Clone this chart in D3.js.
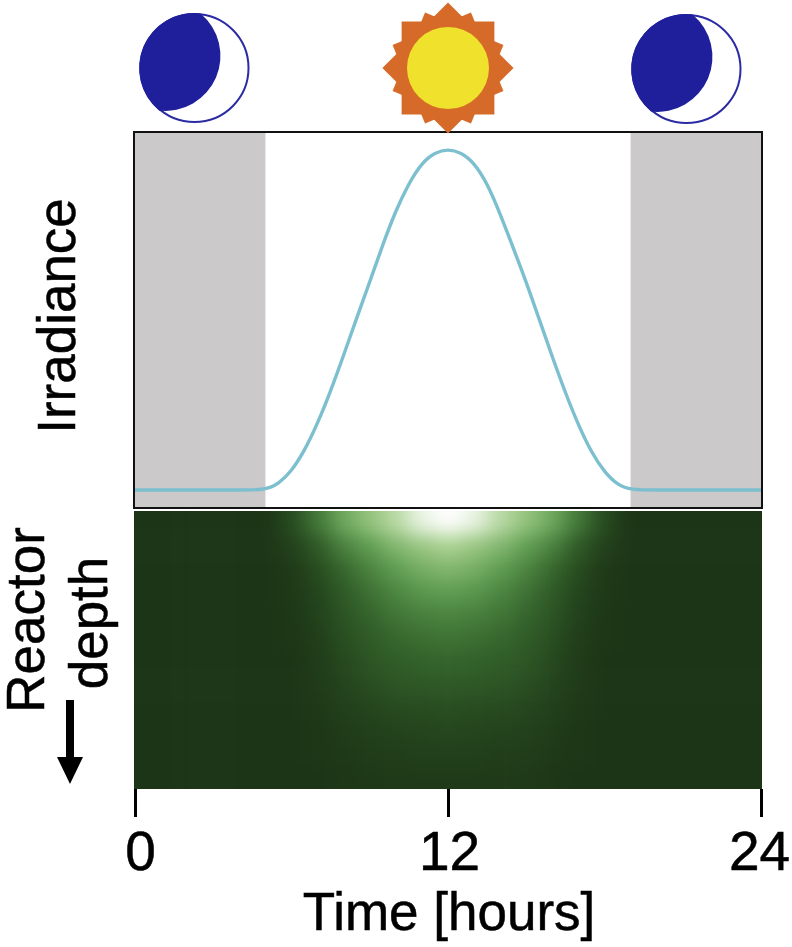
<!DOCTYPE html>
<html>
<head>
<meta charset="utf-8">
<style>
  html, body { margin: 0; padding: 0; background: #fff; }
  svg { display: block; }
  text { font-family: 'Liberation Sans', Arial, sans-serif; fill: #000; stroke: #000; stroke-width: 0.5px; }
</style>
<script src="https://cdn.jsdelivr.net/npm/d3@7"></script>
</head>
<body>
<svg width="792" height="947"></svg>
<script>
// Irradiance, every half hour from 5 to 19
const curveHours = [0, 1, 2, 3, 4, 5, 5.5, 6, 6.5, 7, 7.5, 8, 8.5, 9, 9.5, 10, 10.5, 11, 11.5, 12,
  12.5, 13, 13.5, 14, 14.5, 15, 15.5, 16, 16.5, 17, 17.5, 18, 18.5, 19, 20, 21, 22, 23, 24];
const irradiance = [0, 0, 0, 0, 0, 0, 0.018, 0.055, 0.115, 0.195, 0.29, 0.395, 0.505, 0.61, 0.72, 0.82, 0.9, 0.96, 0.99, 1,
  0.99, 0.96, 0.9, 0.81, 0.71, 0.61, 0.5, 0.39, 0.285, 0.19, 0.11, 0.052, 0.015, 0, 0, 0, 0, 0, 0];

// Night shading, start and end hours
const nightSpans = [[0, 5], [19, 24]];

// Heatmap: one row per depth, one value per hour 0..24
const heatHours = d3.range(0, 25);
const depths = d3.range(0, 12);
const row0 = [0, 0, 0, 0, 0, 0, .12, .34, .55, .68, .8, .94, 1, .94, .8, .68, .55, .34, .12, 0, 0, 0, 0, 0, 0];
const row1 = [0, 0, 0, 0, 0, 0, .06, .2, .38, .5, .62, .7, .76, .7, .62, .5, .38, .2, .06, 0, 0, 0, 0, 0, 0];
const row2 = [0, 0, 0, 0, 0, 0, .03, .13, .27, .39, .5, .58, .62, .58, .5, .39, .27, .13, .03, 0, 0, 0, 0, 0, 0];
const row3 = [0, 0, 0, 0, 0, 0, .02, .09, .21, .31, .4, .47, .5, .47, .4, .31, .21, .09, .02, 0, 0, 0, 0, 0, 0];
const row4 = [0, 0, 0, 0, 0, 0, .01, .07, .17, .26, .33, .37, .39, .37, .33, .26, .17, .07, .01, 0, 0, 0, 0, 0, 0];
const row5 = [0, 0, 0, 0, 0, 0, .01, .05, .14, .21, .27, .3, .32, .3, .27, .21, .14, .05, .01, 0, 0, 0, 0, 0, 0];
const row6 = [0, 0, 0, 0, 0, 0, 0, .04, .11, .18, .22, .25, .26, .25, .22, .18, .11, .04, 0, 0, 0, 0, 0, 0, 0];
const row7 = [0, 0, 0, 0, 0, 0, 0, .03, .08, .13, .17, .19, .2, .19, .17, .13, .08, .03, 0, 0, 0, 0, 0, 0, 0];
const row8 = [0, 0, 0, 0, 0, 0, 0, .02, .06, .09, .12, .13, .14, .13, .12, .09, .06, .02, 0, 0, 0, 0, 0, 0, 0];
const row9 = [0, 0, 0, 0, 0, 0, 0, .01, .04, .06, .08, .09, .1, .09, .08, .06, .04, .01, 0, 0, 0, 0, 0, 0, 0];
const row10 = [0, 0, 0, 0, 0, 0, 0, .01, .02, .04, .05, .06, .06, .06, .05, .04, .02, .01, 0, 0, 0, 0, 0, 0, 0];
const row11 = [0, 0, 0, 0, 0, 0, 0, 0, .01, .02, .03, .03, .03, .03, .03, .02, .01, 0, 0, 0, 0, 0, 0, 0, 0];
const heatRows = [row0, row1, row2, row3, row4, row5, row6, row7, row8, row9, row10, row11];

const xTicks = [0, 12, 24];

const svg = d3.select('svg');

const xScale = d3.scaleLinear().domain([0, 24]).range([135, 761]);
const yScale = d3.scaleLinear().domain([0, 1]).range([490, 149]);

const topPanel = { left: 134, right: 762, top: 132, bottom: 508 };
const heatPanel = { left: 134, right: 762, top: 511, bottom: 789 };

// Clip and blur for the heatmap
const defs = svg.append('defs');
defs.append('clipPath').attr('id', 'heat-clip')
  .append('rect')
  .attr('x', heatPanel.left)
  .attr('y', heatPanel.top)
  .attr('width', heatPanel.right - heatPanel.left)
  .attr('height', heatPanel.bottom - heatPanel.top);
defs.append('filter').attr('id', 'heat-blur')
  .attr('filterUnits', 'userSpaceOnUse')
  .attr('color-interpolation-filters', 'sRGB')
  .attr('x', 0).attr('y', 400).attr('width', 792).attr('height', 500)
  .append('feGaussianBlur')
  .attr('stdDeviation', '10 9');

// Heatmap cells
const colorScale = d3.scaleLinear()
  .domain([0, 0.25, 0.5, 0.75, 1])
  .range(['#1c3516', '#33622a', '#5f9e52', '#a9d18e', '#ffffff']);

const colBand = d3.scaleBand()
  .domain(heatHours)
  .range([xScale(0) - 13, xScale(24) + 13]);
const rowBand = d3.scaleBand()
  .domain(depths)
  .range([heatPanel.top, heatPanel.bottom]);

const overhang = 40; // outer rows run past the clip so the blur keeps its colour at the edges
const heatG = svg.append('g').attr('clip-path', 'url(#heat-clip)')
  .append('g').attr('filter', 'url(#heat-blur)');

depths.forEach((depth) => {
  heatG.selectAll(`rect.row-${depth}`)
    .data(heatRows[depth])
    .enter()
    .append('rect')
    .attr('class', `row-${depth}`)
    .attr('x', (d, i) => colBand(heatHours[i]) - (i === 0 ? overhang : 0))
    .attr('y', rowBand(depth) - (depth === 0 ? overhang : 0))
    .attr('width', (d, i) => colBand.bandwidth() + 0.5 + (i === 0 || i === 24 ? overhang : 0))
    .attr('height', rowBand.bandwidth() + 0.5 + (depth === 0 || depth === 11 ? overhang : 0))
    .attr('fill', (d) => colorScale(d));
});

// Night shading in the irradiance panel
svg.selectAll('rect.night')
  .data(nightSpans)
  .enter()
  .append('rect')
  .attr('class', 'night')
  .attr('x', (d) => Math.max(xScale(d[0]), topPanel.left))
  .attr('y', topPanel.top)
  .attr('width', (d) => xScale(d[1]) - xScale(d[0]))
  .attr('height', topPanel.bottom - topPanel.top)
  .attr('fill', '#cbc9ca');

// Irradiance curve
const line = d3.line()
  .x((d, i) => xScale(curveHours[i]))
  .y((d) => yScale(d))
  .curve(d3.curveBasis);

svg.append('path')
  .datum(irradiance)
  .attr('d', line)
  .attr('fill', 'none')
  .attr('stroke', '#7cbfce')
  .attr('stroke-width', 3.4);

svg.append('rect')
  .attr('x', topPanel.left)
  .attr('y', topPanel.top)
  .attr('width', topPanel.right - topPanel.left)
  .attr('height', topPanel.bottom - topPanel.top)
  .attr('fill', 'none')
  .attr('stroke', '#111')
  .attr('stroke-width', 2);

// Time axis
const axis = svg.append('g')
  .attr('transform', `translate(0,${heatPanel.bottom})`)
  .call(d3.axisBottom(xScale).tickValues(xTicks).tickSize(28).tickSizeOuter(0).tickPadding(14));
axis.select('.domain').remove();
axis.selectAll('line').attr('stroke', '#000').attr('stroke-width', 3);
axis.selectAll('text')
  .attr('font-size', 55)
  .attr('fill', '#000')
  .attr('dx', (d) => (d === 0 ? 5 : d === 24 ? -2 : 1))
  .style('font-family', "'Liberation Sans', Arial, sans-serif");

svg.append('text')
  .attr('x', 449)
  .attr('y', 930)
  .attr('text-anchor', 'middle')
  .attr('font-size', 53)
  .text('Time [hours]');

// Rotated labels
const sideLabel = (label, x, y) => svg.append('text')
  .attr('transform', `translate(${x},${y}) rotate(-90)`)
  .attr('text-anchor', 'middle')
  .attr('font-size', 53)
  .text(label);
sideLabel('Irradiance', 75, 316);
sideLabel('Reactor', 44, 620);
sideLabel('depth', 107, 623);

// Depth arrow
svg.append('path')
  .attr('d', 'M66,700H74V757H83L70,784L57,757H66Z')
  .attr('fill', '#000');

// Moons
const drawMoon = (cx, cy) => {
  const g = svg.append('g').attr('transform', `translate(${cx},${cy})`);
  g.append('circle')
    .attr('r', 54)
    .attr('fill', '#fff')
    .attr('stroke', '#2b2ba3')
    .attr('stroke-width', 2);
  g.append('path')
    .attr('d', 'M6,-54.5A55,55 0 0 0 -35.5,42.5A55,55 0 0 0 6,-54.5Z')
    .attr('fill', '#1f1f9c');
};
drawMoon(194.5, 68);
drawMoon(686.5, 69);

// Sun: four overlapping squares and the disc
const sun = svg.append('g').attr('transform', 'translate(448,68)');
const squares = [[65.6, 0], [65.6, 45], [60, 22.5], [60, 67.5]];
const squarePath = d3.lineRadial()
  .radius((d) => d.r)
  .angle((d) => d.a)
  .curve(d3.curveLinearClosed);
sun.selectAll('path')
  .data(squares)
  .enter()
  .append('path')
  .attr('d', (d) => squarePath([0, 90, 180, 270].map((a) => ({ r: d[0], a: ((a + d[1]) * Math.PI) / 180 }))))
  .attr('fill', '#d66a28');
sun.append('circle').attr('r', 41).attr('fill', '#efe12c');
</script>
</body>
</html>
